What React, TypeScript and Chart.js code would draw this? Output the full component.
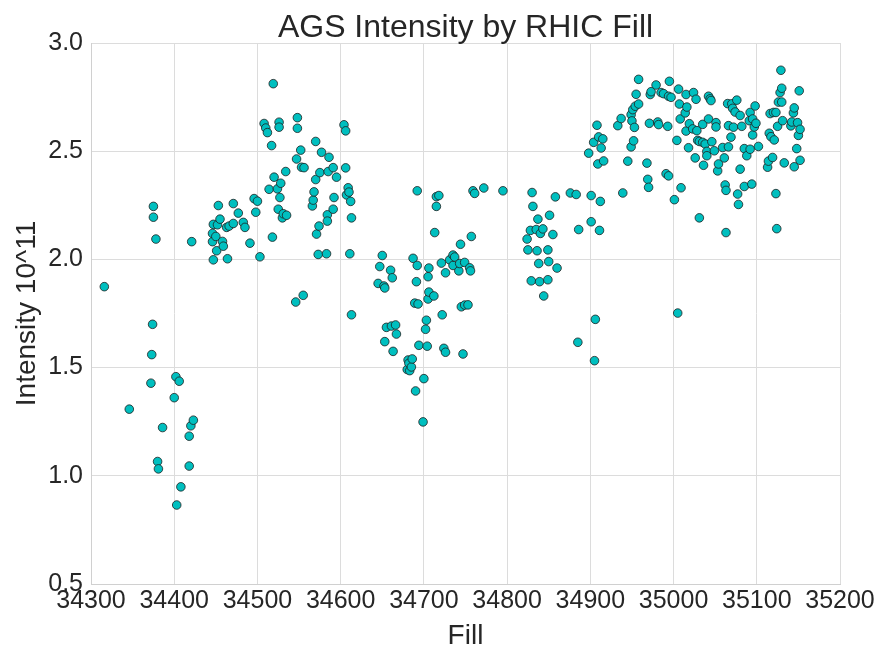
import React, { useEffect, useRef } from 'react';
import { Chart, registerables } from 'chart.js';

Chart.register(...registerables);

const TITLE = 'AGS Intensity by RHIC Fill';
const X_LABEL = 'Fill';
const Y_LABEL = 'Intensity 10^11';

const X_MIN = 34300;
const X_MAX = 35200;
const X_STEP = 100;
const Y_MIN = 0.5;
const Y_MAX = 3.0;
const Y_STEP = 0.5;

const fills = [
  34316, 34346, 34372, 34373, 34374, 34375, 34375, 34378, 34380, 34381,
  34386, 34400, 34402, 34403, 34406, 34408, 34418, 34418, 34420, 34421,
  34423,
  34446, 34446, 34447, 34447, 34450, 34451, 34452, 34453, 34455, 34458,
  34459, 34463, 34464, 34466, 34471, 34471, 34477, 34483, 34485, 34491,
  34496, 34498, 34500, 34503, 34508, 34510, 34512, 34514, 34517, 34518,
  34519, 34520, 34524, 34525, 34526, 34526, 34527, 34528, 34530, 34531,
  34534, 34535, 34546, 34547, 34548, 34548, 34552, 34553, 34555, 34556,
  34566, 34567, 34568, 34570, 34570, 34571, 34573, 34574, 34575, 34577,
  34583, 34584, 34584, 34585, 34586, 34591, 34591, 34592, 34595, 34604,
  34606, 34606, 34607, 34609, 34610, 34611, 34612, 34613, 34613,
  34645, 34647, 34650, 34652, 34653, 34653, 34655, 34660, 34661, 34662,
  34663, 34666, 34667, 34680, 34681, 34682, 34683, 34685, 34686, 34687,
  34689, 34690, 34691, 34692, 34692, 34693, 34694, 34699, 34700, 34702,
  34703, 34704, 34705, 34705, 34706, 34706, 34712, 34713, 34715, 34715,
  34718, 34721, 34722, 34724, 34726, 34726, 34731, 34735, 34735, 34737,
  34742, 34743, 34744, 34745, 34747, 34749, 34749, 34753, 34755, 34756,
  34757, 34759, 34761, 34772, 34795,
  34824, 34825, 34828, 34829, 34830, 34831, 34835, 34836, 34837, 34838,
  34839, 34840, 34843, 34844, 34849, 34849, 34850, 34851, 34855, 34858,
  34860, 34876, 34883, 34885, 34886, 34898, 34901, 34901, 34904, 34905,
  34906, 34908, 34909, 34910, 34911, 34912, 34913, 34915, 34916, 34933,
  34937, 34939, 34945,
  34949, 34949, 34950, 34951, 34952, 34953, 34954, 34955, 34958, 34958,
  34968, 34969, 34970, 34971, 34972, 34973, 34979, 34981, 34982, 34985,
  34988, 34991, 34993, 34994, 34994, 34995, 34997, 35001, 35004, 35005,
  35006, 35007, 35008, 35009, 35014, 35015, 35015, 35016, 35018, 35019,
  35023, 35024, 35026, 35027, 35028, 35029, 35031, 35031, 35035, 35035,
  35036, 35038, 35040, 35040, 35042, 35042, 35044, 35045, 35046, 35049,
  35051, 35051, 35053, 35054, 35059, 35061, 35062, 35063, 35063, 35065,
  35066, 35066, 35069, 35070, 35071, 35072, 35074, 35076, 35077, 35078,
  35080, 35080, 35082, 35085, 35085, 35088, 35091, 35092, 35092, 35094,
  35095, 35095, 35097, 35098, 35099, 35102, 35113, 35114, 35115, 35116,
  35117, 35119, 35120, 35121, 35123, 35123, 35124, 35125, 35126, 35128,
  35129, 35130, 35130, 35131, 35133, 35141, 35142, 35144, 35145, 35145,
  35148, 35149, 35150, 35151, 35152, 35152,
];

const intensities = [
  1.874, 1.308, 1.428, 1.56, 1.70, 2.245, 2.195, 2.094, 1.066, 1.032,
  1.223, 1.361, 1.458, 0.865, 1.437, 0.949, 1.183, 1.045, 1.231, 2.082,
  1.257,
  2.120, 2.082, 2.162, 1.998, 2.106, 2.040, 2.160, 2.249, 2.186, 2.083,
  2.061, 2.148, 2.003, 2.154, 2.258, 2.166, 2.214, 2.171, 2.148, 2.075,
  2.281, 2.218, 2.269, 2.012, 2.628, 2.607, 2.586, 2.324, 2.526, 2.103,
  2.812, 2.380, 2.326, 2.232, 2.634, 2.611, 2.286, 2.352, 2.192, 2.211,
  2.406, 2.204, 1.803, 2.464, 2.655, 2.606, 2.505, 2.426, 1.834, 2.424,
  2.247, 2.274, 2.312, 2.545, 2.369, 2.117, 2.023, 2.154, 2.401, 2.495,
  2.026, 2.206, 2.177, 2.406, 2.472, 2.424, 2.232, 2.286, 2.380, 2.622,
  2.594, 2.423, 2.298, 2.331, 2.311, 2.026, 2.268, 2.192, 1.744,
  1.889, 1.967, 2.018, 1.877, 1.868, 1.620, 1.686, 1.950, 1.692, 1.915,
  1.575, 1.697, 1.655, 1.491, 1.535, 1.520, 1.486, 1.503, 1.540, 2.005,
  1.798, 1.392, 1.897, 2.317, 1.972, 1.794, 1.603, 1.249, 1.449, 1.677,
  1.719, 1.599, 1.920, 1.817, 1.960, 1.849, 1.831, 2.124, 2.290, 2.245,
  2.295, 1.983, 1.744, 1.589, 1.938, 1.571, 1.998, 2.020, 1.972, 2.011,
  1.947, 1.981, 2.070, 1.781, 1.563, 1.986, 1.789, 1.790, 1.961, 1.947,
  2.106, 2.317, 2.305, 2.330, 2.317,
  2.094, 2.044, 2.134, 1.901, 2.309, 2.245, 2.138, 2.040, 2.186, 1.981,
  1.897, 2.120, 2.141, 1.831, 2.044, 1.906, 1.990, 2.204, 2.115, 2.289,
  1.960, 2.307, 2.300, 1.617, 2.138, 2.491, 2.295, 2.174, 2.541, 1.532,
  1.723, 2.620, 2.441, 2.566, 2.134, 2.268, 2.515, 2.557, 2.455, 2.618,
  2.651, 2.307, 2.454,
  2.669, 2.520, 2.640, 2.692, 2.548, 2.610, 2.708, 2.763, 2.832, 2.718,
  2.445, 2.370, 2.333, 2.629, 2.762, 2.775, 2.806, 2.635, 2.623, 2.771,
  2.766, 2.396, 2.615, 2.754, 2.386, 2.823, 2.749, 2.276, 2.550, 1.752,
  2.787, 2.718, 2.649, 2.331, 2.677, 2.762, 2.593, 2.704, 2.516, 2.627,
  2.603, 2.771, 2.469, 2.740, 2.595, 2.550, 2.545, 2.192, 2.624, 2.541,
  2.435, 2.533, 2.499, 2.479, 2.754, 2.649, 2.742, 2.734, 2.544, 2.502,
  2.632, 2.612, 2.409, 2.441, 2.517, 2.469, 2.344, 2.319, 2.124, 2.720,
  2.618, 2.520, 2.565, 2.719, 2.698, 2.611, 2.681, 2.736, 2.302, 2.254,
  2.665, 2.417, 2.615, 2.512, 2.337, 2.479, 2.641, 2.679, 2.509, 2.348,
  2.649, 2.575, 2.612, 2.709, 2.629, 2.522, 2.426, 2.454, 2.583, 2.674,
  2.567, 2.471, 2.679, 2.552, 2.679, 2.304, 2.142, 2.615, 2.727, 2.771,
  2.874, 2.791, 2.727, 2.641, 2.446, 2.617, 2.635, 2.677, 2.700, 2.428,
  2.512, 2.632, 2.573, 2.779, 2.601, 2.458,
];

const FONT = '"Liberation Sans", Arial, Helvetica, sans-serif';
const TEXT_COLOR = '#262626';
const GRID_COLOR = '#dcdcdc';

const textPlugin = {
  id: 'customTexts',
  afterDraw(chart: any) {
    const { ctx, chartArea } = chart;
    const cx = (chartArea.left + chartArea.right) / 2;
    const cy = (chartArea.top + chartArea.bottom) / 2;
    ctx.save();
    ctx.fillStyle = TEXT_COLOR;
    ctx.textAlign = 'center';
    ctx.textBaseline = 'alphabetic';
    ctx.font = `32px ${FONT}`;
    ctx.fillText(TITLE, cx, 37);
    ctx.font = `28px ${FONT}`;
    ctx.fillText(X_LABEL, cx, 644);
    ctx.translate(35, cy);
    ctx.rotate(-Math.PI / 2);
    ctx.fillText(Y_LABEL, 0, 0);
    ctx.restore();
  },
};

export default function App() {
  const canvasRef = useRef<HTMLCanvasElement | null>(null);

  useEffect(() => {
    const canvas = canvasRef.current;
    if (!canvas) return;
    const points = fills.map((f, i) => ({ x: f, y: intensities[i] }));
    const chart = new Chart(canvas, {
      type: 'scatter',
      data: {
        datasets: [
          {
            data: points,
            backgroundColor: '#00bfbf',
            borderColor: '#1e1e1e',
            borderWidth: 0.8,
            pointRadius: 4.3,
            pointHoverRadius: 4.3,
          },
        ],
      },
      options: {
        responsive: false,
        animation: false,
        devicePixelRatio: 1,
        layout: { padding: { top: 43, right: 41, left: 0, bottom: 0 } },
        plugins: {
          legend: { display: false },
          tooltip: { enabled: false },
          title: { display: false },
        },
        scales: {
          x: {
            type: 'linear',
            min: X_MIN,
            max: X_MAX,
            grid: { color: GRID_COLOR, drawTicks: false, lineWidth: 1 },
            border: { color: '#d0d0d0', width: 1 },
            ticks: {
              stepSize: X_STEP,
              padding: 2,
              color: TEXT_COLOR,
              font: { family: FONT, size: 25 },
              maxRotation: 0,
              autoSkip: false,
              callback: (v: any) => String(v),
            },
            afterFit: (scale: any) => {
              scale.height = 62;
            },
          },
          y: {
            type: 'linear',
            min: Y_MIN,
            max: Y_MAX,
            grid: { color: GRID_COLOR, drawTicks: false, lineWidth: 1 },
            border: { color: '#d0d0d0', width: 1 },
            ticks: {
              stepSize: Y_STEP,
              padding: 8,
              color: TEXT_COLOR,
              font: { family: FONT, size: 25 },
              callback: (v: any) => Number(v).toFixed(1),
            },
            afterFit: (scale: any) => {
              scale.width = 91;
            },
          },
        },
      },
      plugins: [textPlugin],
    });
    return () => chart.destroy();
  }, []);

  return (
    <div style={{ position: 'fixed', left: 0, top: 0, width: 881, height: 646, background: '#fff' }}>
      <canvas ref={canvasRef} width={881} height={646} style={{ display: 'block' }} />
    </div>
  );
}
